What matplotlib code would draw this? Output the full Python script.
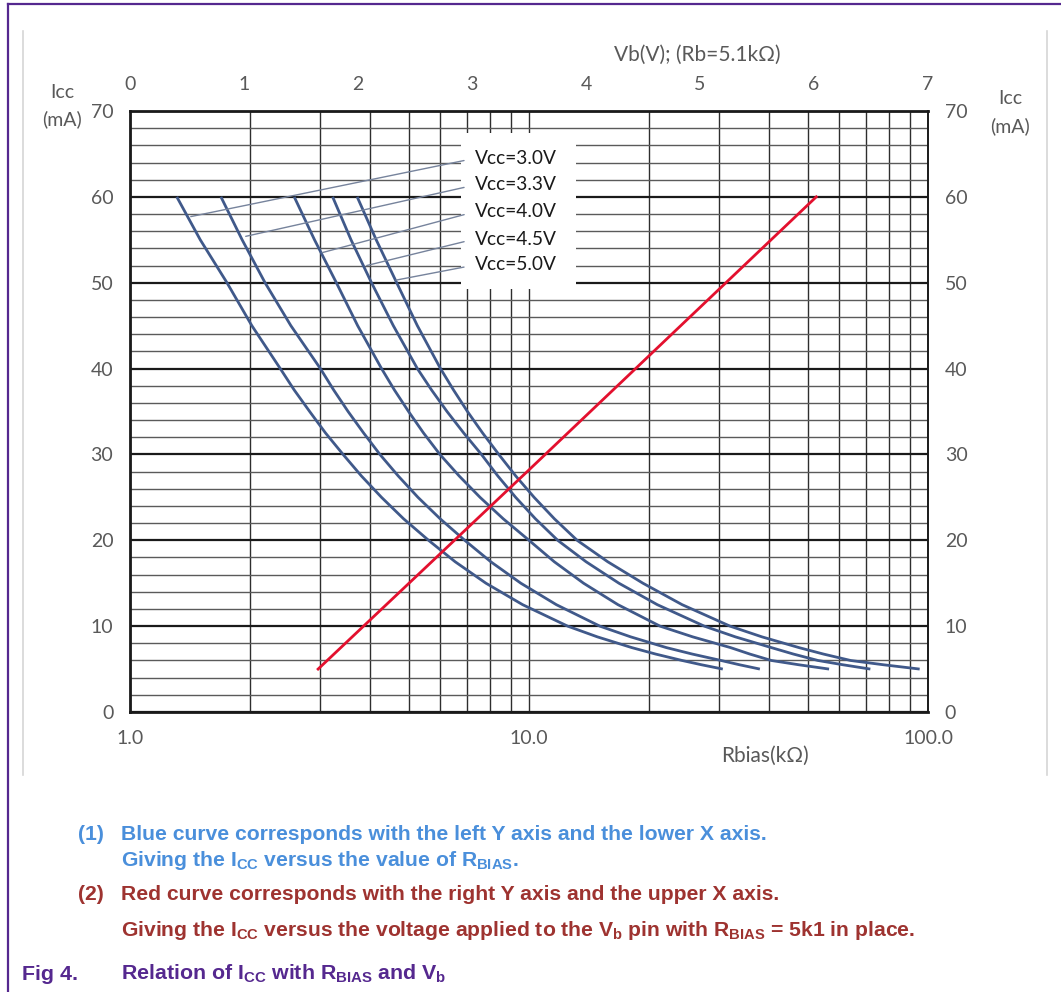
import numpy as np
import matplotlib
matplotlib.use("Agg")
import matplotlib.pyplot as plt
from matplotlib.ticker import MultipleLocator, LogLocator, FixedLocator, FixedFormatter, NullFormatter
from matplotlib.patches import Rectangle
from matplotlib.lines import Line2D

# ---------------- data ----------------
icc_levels = [60, 55, 50, 45, 40, 37.5, 35, 32.5, 30, 27.5, 25, 22.5, 20, 17.5, 15, 12.5,
              10, 8.75, 7.5, 6.75, 6, 5.5, 5]                                  # mA
rbias_vcc30 = [1.31, 1.50, 1.75, 2.02, 2.38, 2.58, 2.82, 3.09, 3.42, 3.80, 4.27, 4.85, 5.6, 6.53,
               7.8, 9.64, 12.5, 14.84, 18.1, 20.76, 24.2, 27.07, 30.6]
rbias_vcc33 = [1.69, 1.91, 2.18, 2.53, 3.00, 3.24, 3.52, 3.85, 4.23, 4.70, 5.27, 5.99, 6.9, 8.02,
               9.54, 11.71, 15.05, 17.99, 22.1, 25.65, 30.3, 33.71, 37.9]
rbias_vcc40 = [2.58, 2.90, 3.29, 3.72, 4.27, 4.60, 4.99, 5.44, 5.98, 6.68, 7.54, 8.62, 10.0, 11.57,
               13.7, 16.71, 21.3, 25.73, 32.0, 35.76, 40.5, 47.47, 56.5]
rbias_vcc45 = [3.22, 3.58, 4.03, 4.57, 5.25, 5.70, 6.23, 6.86, 7.60, 8.35, 9.26, 10.38, 11.8, 13.90,
               16.8, 20.97, 27.5, 32.91, 40.5, 45.98, 53.0, 61.22, 71.7]
rbias_vcc50 = [3.71, 4.14, 4.66, 5.25, 6.00, 6.47, 7.01, 7.65, 8.40, 9.26, 10.3, 11.58, 13.2, 15.75,
               19.3, 24.2, 31.9, 38.37, 47.5, 54.68, 64.0, 77.38, 95.3]
vcc_labels = ["Vcc=3.0V", "Vcc=3.3V", "Vcc=4.0V", "Vcc=4.5V", "Vcc=5.0V"]
# points on each curve where the label leader lines end
leader_rbias = [1.42, 1.95, 3.03, 3.92, 4.64]
leader_icc = [57.7, 55.4, 53.5, 52.0, 50.3]

vb_volts = [1.65, 3.50, 6.02]     # V, upper axis
icc_red = [5.0, 28.2, 60.0]       # mA, right axis

left_ticks = [0, 10, 20, 30, 40, 50, 60, 70]
bottom_ticks = [1, 10, 100]
bottom_labels = ["1.0", "10.0", "100.0"]
top_ticks = [0, 1, 2, 3, 4, 5, 6, 7]

# ---------------- figure ----------------
W, H = 1061, 992
fig = plt.figure(figsize=(W / 100, H / 100), dpi=100)
fig.patch.set_facecolor("white")

def fx(px):
    return px / W

def fy(py):
    return 1 - py / H

FONT = ["Lato", "DejaVu Sans"]
GRAY = "#595959"

# outer frame (purple) and chart picture border (light gray)
fig.add_artist(Line2D([fx(8), fx(8)], [fy(4), 0], color="#55288f", lw=1.6))
fig.add_artist(Line2D([fx(8), 1], [fy(4), fy(4)], color="#55288f", lw=1.6))
fig.add_artist(Line2D([fx(22.5), fx(22.5)], [fy(31), fy(775)], color="#d6d6d6", lw=1.2))
fig.add_artist(Line2D([fx(1046.5), fx(1046.5)], [fy(31), fy(775)], color="#d6d6d6", lw=1.2))

L, R, T, B = 130, 928, 111, 712
ax = fig.add_axes([fx(L), fy(B), (R - L) / W, (B - T) / H])
ax.set_xscale("log")
ax.set_xlim(1, 100)
ax.set_ylim(0, 70)

ax.xaxis.set_major_locator(FixedLocator(bottom_ticks))
ax.xaxis.set_major_formatter(FixedFormatter(bottom_labels))
ax.xaxis.set_minor_locator(LogLocator(base=10, subs=np.arange(2, 10)))
ax.xaxis.set_minor_formatter(NullFormatter())
ax.yaxis.set_major_locator(FixedLocator(left_ticks))
ax.yaxis.set_minor_locator(MultipleLocator(2))

ax.xaxis.grid(True, which="both", color="#2e2e2e", lw=1.0)
ax.yaxis.grid(True, which="minor", color="#5a5a5a", lw=1.0)
ax.yaxis.grid(True, which="major", color="#1a1a1a", lw=1.6)

ax.tick_params(axis="x", which="both", length=0, pad=13, labelsize=14, labelcolor=GRAY)
ax.tick_params(axis="y", which="both", length=0, pad=12, labelsize=14, labelcolor=GRAY,
               labelleft=True, labelright=True)
for lab in ax.get_xticklabels() + ax.get_yticklabels():
    lab.set_family(FONT)
for sp in ax.spines.values():
    sp.set_color("#1a1a1a")
    sp.set_linewidth(2.0)
ax.spines["right"].set_linewidth(1.4)

# white box behind the curve labels
ax.add_patch(Rectangle((0.415, 0.704), 0.144, 0.259, transform=ax.transAxes,
                       facecolor="white", edgecolor="none", zorder=2.2))

blue = "#40598a"
for rb in [rbias_vcc30, rbias_vcc33, rbias_vcc40, rbias_vcc45, rbias_vcc50]:
    ax.plot(rb, icc_levels, color=blue, lw=2.0, zorder=3, solid_capstyle="butt",
            solid_joinstyle="round")

label_y = [0.9213, 0.8769, 0.8324, 0.7870, 0.7438]
for txt, rx, iy, ly in zip(vcc_labels, leader_rbias, leader_icc, label_y):
    ax.annotate(txt, xy=(rx, iy), xycoords="data", xytext=(0.4323, ly), textcoords="axes fraction",
                ha="left", va="center", fontsize=13.8, color="#1a1a1a", family=FONT, zorder=4,
                arrowprops=dict(arrowstyle="-", color="#76839c", lw=1.0, relpos=(0, 0.5),
                                shrinkA=6, shrinkB=0))

# upper axis: Vb
ax2 = ax.twiny()
ax2.set_xlim(0, 7)
ax2.set_ylim(0, 70)
ax2.xaxis.set_major_locator(FixedLocator(top_ticks))
ax2.tick_params(axis="x", length=0, pad=13, labelsize=14, labelcolor=GRAY)
for lab in ax2.get_xticklabels():
    lab.set_family(FONT)
for sp in ax2.spines.values():
    sp.set_visible(False)
ax2.plot(vb_volts, icc_red, color="#e3102e", lw=2.0, zorder=3)

# axis titles
fig.text(fx(62), fy(92), "Icc", ha="center", va="center", fontsize=14, color=GRAY, family=FONT)
fig.text(fx(62), fy(119), "(mA)", ha="center", va="center", fontsize=14, color=GRAY, family=FONT)
fig.text(fx(1010), fy(98), "Icc", ha="center", va="center", fontsize=14, color=GRAY, family=FONT)
fig.text(fx(1010), fy(126), "(mA)", ha="center", va="center", fontsize=14, color=GRAY, family=FONT)
fig.text(fx(697), fy(55), "Vb(V); (Rb=5.1k\u03a9)", ha="center", va="center", fontsize=15,
         color=GRAY, family=FONT)
fig.text(fx(765), fy(756), "Rbias(k\u03a9)", ha="center", va="center", fontsize=15,
         color=GRAY, family=FONT)

# notes below the chart
plt.rcParams["mathtext.fontset"] = "custom"
plt.rcParams["mathtext.rm"] = "Liberation Sans:bold"
plt.rcParams["mathtext.it"] = "Liberation Sans:bold"
plt.rcParams["mathtext.bf"] = "Liberation Sans:bold"
NOTE = dict(fontsize=15.2, fontweight="bold", family="Liberation Sans", va="baseline", ha="left")
c_blue = "#4a8fdb"
c_red = "#9e3330"
c_purple = "#55288f"
fig.text(fx(78), fy(840), "(1)", color=c_blue, **NOTE)
fig.text(fx(121), fy(840), "Blue curve corresponds with the left Y axis and the lower X axis.", color=c_blue, **NOTE)
fig.text(fx(121), fy(866), r"Giving the $I_{CC}$ versus the value of $R_{BIAS}$.", color=c_blue, **NOTE)
fig.text(fx(78), fy(900), "(2)", color=c_red, **NOTE)
fig.text(fx(121), fy(900), "Red curve corresponds with the right Y axis and the upper X axis.", color=c_red, **NOTE)
fig.text(fx(121), fy(936), r"Giving the $I_{CC}$ versus the voltage applied to the $V_b$ pin with $R_{BIAS}$ = 5k1 in place.",
         color=c_red, **NOTE)
CAP = dict(fontsize=15.4, fontweight="bold", family="Liberation Sans", va="baseline", ha="left", color=c_purple)
fig.text(fx(22), fy(980), "Fig 4.", **CAP)
fig.text(fx(121), fy(980), r"Relation of $I_{CC}$ with $R_{BIAS}$ and $V_b$", **CAP)

fig.savefig("out.png", dpi=100)
